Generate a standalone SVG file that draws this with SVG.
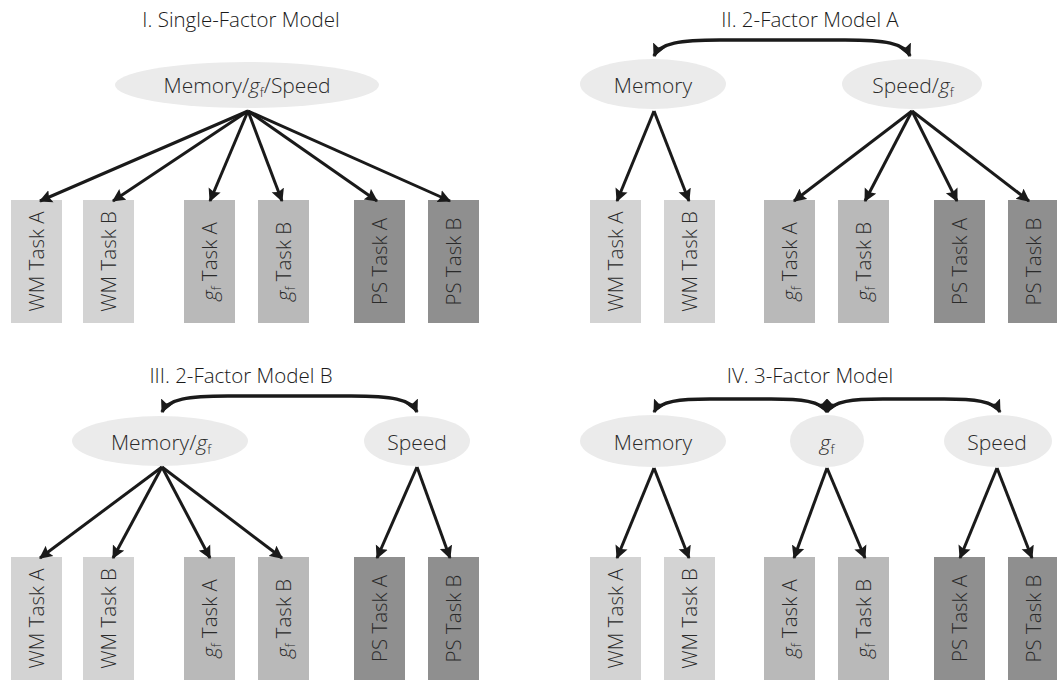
<svg xmlns="http://www.w3.org/2000/svg" width="1057" height="680" viewBox="0 0 1057 680">
<style>
.title{font-family:"Open Sans","Liberation Sans",sans-serif;font-weight:300;font-size:20.5px;fill:#1a1a1a;text-anchor:middle}
.lab{font-family:"Open Sans","Liberation Sans",sans-serif;font-weight:300;font-size:21px;fill:#2a2a2a;text-anchor:middle}
.blab{font-family:"Open Sans","Liberation Sans",sans-serif;font-weight:300;font-size:20.5px;fill:#2a2a2a;text-anchor:middle}
.it{font-style:italic}
.sub{font-size:13px}
.ell{fill:#ebebeb}
.wm{fill:#d3d3d3}
.gf{fill:#b9b9b9}
.ps{fill:#8f8f8f}
.ar{stroke:#1a1a1a;stroke-width:3;fill:none;marker-end:url(#ah)}
.cv{stroke:#1a1a1a;stroke-width:3.5;fill:none;marker-end:url(#ah2);marker-start:url(#ah2)}
</style>
<defs>
<marker id="ah" viewBox="0 0 12 12" refX="11" refY="6" markerWidth="13" markerHeight="14" markerUnits="userSpaceOnUse" orient="auto">
<path d="M0,0 L12,6 L0,12 L2,6 Z" fill="#1a1a1a"/>
</marker>
<marker id="ah2" viewBox="0 0 12 12" refX="11" refY="6" markerWidth="13" markerHeight="17" markerUnits="userSpaceOnUse" orient="auto-start-reverse">
<path d="M0,0 L12,6 L0,12 L2,6 Z" fill="#1a1a1a"/>
</marker>
</defs>
<rect width="1057" height="680" fill="#ffffff"/>

<!-- Titles -->
<g id="titles">
<text class="title" x="241" y="27">I. Single-Factor Model</text>
<text class="title" x="810" y="27">II. 2-Factor Model A</text>
<text class="title" x="241" y="383">III. 2-Factor Model B</text>
<text class="title" x="810" y="383">IV. 3-Factor Model</text>
</g>

<!-- Panel I -->
<g id="p1-factor">
<ellipse class="ell" cx="247" cy="85" rx="132" ry="23"/>
<text class="lab" x="247" y="93">Memory/<tspan class="it">g</tspan><tspan class="sub" dy="4">f</tspan><tspan dy="-4">/Speed</tspan></text>
</g>
<g id="p1-wmA"><rect class="wm" x="11" y="200" width="51" height="123"/><text class="blab" transform="translate(43.5,261.5) rotate(-90)">WM Task A</text></g>
<g id="p1-wmB"><rect class="wm" x="83" y="200" width="51" height="123"/><text class="blab" transform="translate(115.5,261.5) rotate(-90)">WM Task B</text></g>
<g id="p1-gfA"><rect class="gf" x="184" y="200" width="51" height="123"/><text class="blab" transform="translate(216.5,261.5) rotate(-90)"><tspan class="it">g</tspan><tspan class="sub" dy="4">f</tspan><tspan dy="-4"> Task A</tspan></text></g>
<g id="p1-gfB"><rect class="gf" x="258" y="200" width="51" height="123"/><text class="blab" transform="translate(290.5,261.5) rotate(-90)"><tspan class="it">g</tspan><tspan class="sub" dy="4">f</tspan><tspan dy="-4"> Task B</tspan></text></g>
<g id="p1-psA"><rect class="ps" x="354" y="200" width="51" height="123"/><text class="blab" transform="translate(386.5,261.5) rotate(-90)">PS Task A</text></g>
<g id="p1-psB"><rect class="ps" x="428" y="200" width="51" height="123"/><text class="blab" transform="translate(460.5,261.5) rotate(-90)">PS Task B</text></g>

<!-- Panel II -->
<g id="p2-memory">
<ellipse class="ell" cx="653" cy="84" rx="73" ry="25"/>
<text class="lab" x="653" y="93">Memory</text>
</g>
<g id="p2-speedgf">
<ellipse class="ell" cx="912" cy="84" rx="70" ry="25"/>
<text class="lab" x="913" y="93">Speed/<tspan class="it">g</tspan><tspan class="sub" dy="4">f</tspan></text>
</g>
<g id="p2-wmA"><rect class="wm" x="590" y="200" width="51" height="123"/><text class="blab" transform="translate(622.5,261.5) rotate(-90)">WM Task A</text></g>
<g id="p2-wmB"><rect class="wm" x="664" y="200" width="51" height="123"/><text class="blab" transform="translate(696.5,261.5) rotate(-90)">WM Task B</text></g>
<g id="p2-gfA"><rect class="gf" x="764" y="200" width="51" height="123"/><text class="blab" transform="translate(796.5,261.5) rotate(-90)"><tspan class="it">g</tspan><tspan class="sub" dy="4">f</tspan><tspan dy="-4"> Task A</tspan></text></g>
<g id="p2-gfB"><rect class="gf" x="838" y="200" width="51" height="123"/><text class="blab" transform="translate(870.5,261.5) rotate(-90)"><tspan class="it">g</tspan><tspan class="sub" dy="4">f</tspan><tspan dy="-4"> Task B</tspan></text></g>
<g id="p2-psA"><rect class="ps" x="934" y="200" width="51" height="123"/><text class="blab" transform="translate(966.5,261.5) rotate(-90)">PS Task A</text></g>
<g id="p2-psB"><rect class="ps" x="1008" y="200" width="51" height="123"/><text class="blab" transform="translate(1040.5,261.5) rotate(-90)">PS Task B</text></g>

<!-- Panel III -->
<g id="p3-memgf">
<ellipse class="ell" cx="160" cy="441" rx="88" ry="25"/>
<text class="lab" x="161" y="450">Memory/<tspan class="it">g</tspan><tspan class="sub" dy="4">f</tspan></text>
</g>
<g id="p3-speed">
<ellipse class="ell" cx="417" cy="441" rx="53" ry="25"/>
<text class="lab" x="417" y="450">Speed</text>
</g>
<g id="p3-wmA"><rect class="wm" x="11" y="557" width="51" height="123"/><text class="blab" transform="translate(43.5,618.5) rotate(-90)">WM Task A</text></g>
<g id="p3-wmB"><rect class="wm" x="83" y="557" width="51" height="123"/><text class="blab" transform="translate(115.5,618.5) rotate(-90)">WM Task B</text></g>
<g id="p3-gfA"><rect class="gf" x="184" y="557" width="51" height="123"/><text class="blab" transform="translate(216.5,618.5) rotate(-90)"><tspan class="it">g</tspan><tspan class="sub" dy="4">f</tspan><tspan dy="-4"> Task A</tspan></text></g>
<g id="p3-gfB"><rect class="gf" x="258" y="557" width="51" height="123"/><text class="blab" transform="translate(290.5,618.5) rotate(-90)"><tspan class="it">g</tspan><tspan class="sub" dy="4">f</tspan><tspan dy="-4"> Task B</tspan></text></g>
<g id="p3-psA"><rect class="ps" x="354" y="557" width="51" height="123"/><text class="blab" transform="translate(386.5,618.5) rotate(-90)">PS Task A</text></g>
<g id="p3-psB"><rect class="ps" x="428" y="557" width="51" height="123"/><text class="blab" transform="translate(460.5,618.5) rotate(-90)">PS Task B</text></g>

<!-- Panel IV -->
<g id="p4-memory">
<ellipse class="ell" cx="653" cy="441" rx="73" ry="26"/>
<text class="lab" x="653" y="450">Memory</text>
</g>
<g id="p4-gf">
<ellipse class="ell" cx="827" cy="441" rx="37" ry="26"/>
<text class="lab" x="827" y="450"><tspan class="it">g</tspan><tspan class="sub" dy="4">f</tspan></text>
</g>
<g id="p4-speed">
<ellipse class="ell" cx="998" cy="441" rx="54" ry="26"/>
<text class="lab" x="997" y="450">Speed</text>
</g>
<g id="p4-wmA"><rect class="wm" x="590" y="557" width="51" height="123"/><text class="blab" transform="translate(622.5,618.5) rotate(-90)">WM Task A</text></g>
<g id="p4-wmB"><rect class="wm" x="664" y="557" width="51" height="123"/><text class="blab" transform="translate(696.5,618.5) rotate(-90)">WM Task B</text></g>
<g id="p4-gfA"><rect class="gf" x="764" y="557" width="51" height="123"/><text class="blab" transform="translate(796.5,618.5) rotate(-90)"><tspan class="it">g</tspan><tspan class="sub" dy="4">f</tspan><tspan dy="-4"> Task A</tspan></text></g>
<g id="p4-gfB"><rect class="gf" x="838" y="557" width="51" height="123"/><text class="blab" transform="translate(870.5,618.5) rotate(-90)"><tspan class="it">g</tspan><tspan class="sub" dy="4">f</tspan><tspan dy="-4"> Task B</tspan></text></g>
<g id="p4-psA"><rect class="ps" x="934" y="557" width="51" height="123"/><text class="blab" transform="translate(966.5,618.5) rotate(-90)">PS Task A</text></g>
<g id="p4-psB"><rect class="ps" x="1008" y="557" width="51" height="123"/><text class="blab" transform="translate(1040.5,618.5) rotate(-90)">PS Task B</text></g>

<!-- Connectors -->
<g id="connectors">
<line class="ar" x1="248" y1="111" x2="40" y2="201"/>
<line class="ar" x1="248" y1="111" x2="113" y2="201"/>
<line class="ar" x1="248" y1="111" x2="210" y2="201"/>
<line class="ar" x1="248" y1="111" x2="282" y2="201"/>
<line class="ar" x1="248" y1="111" x2="377" y2="201"/>
<line class="ar" x1="248" y1="111" x2="450" y2="201"/>

<path class="cv" d="M654,56 C660,43 680,40 720,40 L845,40 C885,40 904,43 910,56"/>
<line class="ar" x1="654" y1="111" x2="617" y2="201"/>
<line class="ar" x1="654" y1="111" x2="689" y2="201"/>
<line class="ar" x1="912" y1="111" x2="794" y2="201"/>
<line class="ar" x1="912" y1="111" x2="865" y2="201"/>
<line class="ar" x1="912" y1="111" x2="957" y2="201"/>
<line class="ar" x1="912" y1="111" x2="1029" y2="201"/>

<path class="cv" d="M162,412 C168,399 188,396 228,396 L351,396 C391,396 411,399 417,412"/>
<line class="ar" x1="162" y1="467" x2="40" y2="558"/>
<line class="ar" x1="162" y1="467" x2="113" y2="558"/>
<line class="ar" x1="162" y1="467" x2="210" y2="558"/>
<line class="ar" x1="162" y1="467" x2="282" y2="558"/>
<line class="ar" x1="417" y1="467" x2="377" y2="558"/>
<line class="ar" x1="417" y1="467" x2="450" y2="558"/>

<path class="cv" d="M654,412 C660,401 680,399 710,399 L771,399 C801,399 821,401 827,412"/>
<path class="cv" d="M827,412 C833,401 853,399 883,399 L944,399 C974,399 994,401 1000,412"/>
<line class="ar" x1="654" y1="468" x2="617" y2="558"/>
<line class="ar" x1="654" y1="468" x2="689" y2="558"/>
<line class="ar" x1="827" y1="468" x2="794" y2="558"/>
<line class="ar" x1="827" y1="468" x2="865" y2="558"/>
<line class="ar" x1="997" y1="468" x2="960" y2="558"/>
<line class="ar" x1="997" y1="468" x2="1032" y2="558"/>
</g>
</svg>
